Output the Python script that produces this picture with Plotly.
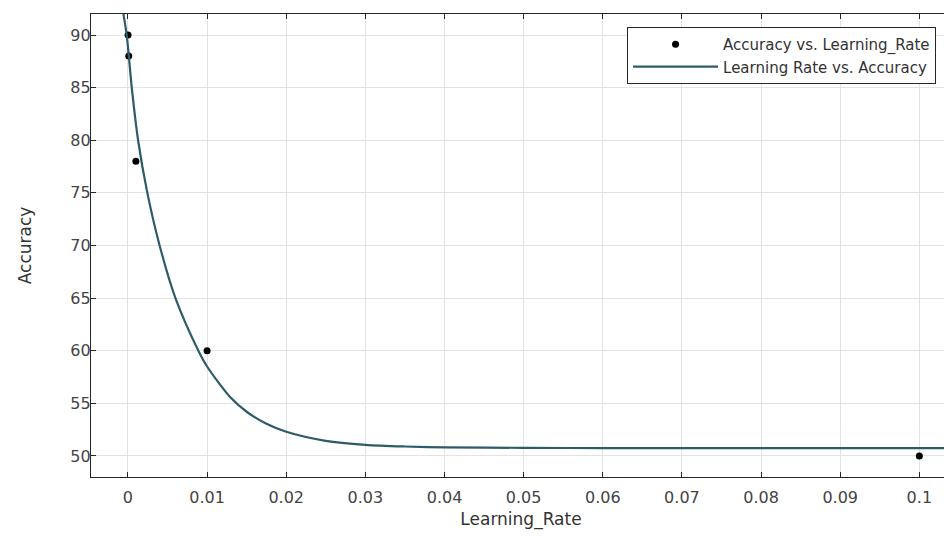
import plotly.graph_objects as go

# Measured data points
learning_rate = [0.00001, 0.0001, 0.001, 0.01, 0.1]
accuracy = [90, 88, 78, 60, 50]

# Fitted curve
fit_x = [-0.0008, -0.00016, 0.00048, 0.00128, 0.00245, 0.0040, 0.0060, 0.0089,
         0.0100, 0.0129, 0.0150, 0.0175, 0.0200, 0.0250, 0.0300, 0.0350, 0.0400,
         0.0500, 0.0600, 0.0800, 0.1000, 0.1050]
fit_y = [93.0, 90.0, 85.0, 80.0, 75.0, 70.0, 65.0, 60.0,
         58.5, 55.6, 54.2, 53.06, 52.3, 51.44, 51.06, 50.9, 50.82,
         50.77, 50.75, 50.75, 50.75, 50.75]

x_ticks = [0, 0.01, 0.02, 0.03, 0.04, 0.05, 0.06, 0.07, 0.08, 0.09, 0.1]
x_tick_labels = ["0", "0.01", "0.02", "0.03", "0.04", "0.05", "0.06", "0.07", "0.08", "0.09", "0.1"]
y_ticks = [50, 55, 60, 65, 70, 75, 80, 85, 90]

FONT = "DejaVu Sans, Liberation Sans, Arial, sans-serif"

fig = go.Figure()
fig.add_trace(go.Scatter(
    x=learning_rate, y=accuracy, mode="markers",
    name="Accuracy vs. Learning_Rate",
    marker=dict(color="black", size=7),
))
fig.add_trace(go.Scatter(
    x=fit_x, y=fit_y, mode="lines", line_shape="spline",
    name="Learning Rate vs. Accuracy",
    line=dict(color="#2d5c68", width=2.2, smoothing=0.8),
))

axis_common = dict(
    showgrid=True, gridcolor="#e3e3e3", gridwidth=1,
    showline=True, linecolor="#262626", linewidth=1.2, mirror="ticks",
    ticks="inside", ticklen=5, tickcolor="#262626",
    zeroline=False,
    tickfont=dict(family=FONT, size=16, color="#444444"),
)

fig.update_layout(
    width=944, height=529,
    margin=dict(l=83, r=1, t=6, b=60),
    paper_bgcolor="white", plot_bgcolor="white",
    font=dict(family=FONT, size=16, color="#333333"),
    xaxis=dict(
        range=[-0.00467, 0.1040],
        tickvals=x_ticks, ticktext=x_tick_labels,
        ticklabelstandoff=6,
        title=dict(text="Learning_Rate", standoff=6,
                   font=dict(size=17, color="#333333")),
        **axis_common,
    ),
    yaxis=dict(
        range=[48, 92],
        tickvals=y_ticks,
        ticklabelstandoff=-4,
        title=dict(text="Accuracy", standoff=34,
                   font=dict(size=17, color="#333333")),
        **axis_common,
    ),
    legend=dict(
        x=0.9826, y=0.972, xanchor="right", yanchor="top",
        bgcolor="white", bordercolor="#262626", borderwidth=1,
        font=dict(family=FONT, size=15, color="#333333"),
        tracegroupgap=0, itemwidth=85,
    ),
    showlegend=True,
)

fig.write_html("out.html")
